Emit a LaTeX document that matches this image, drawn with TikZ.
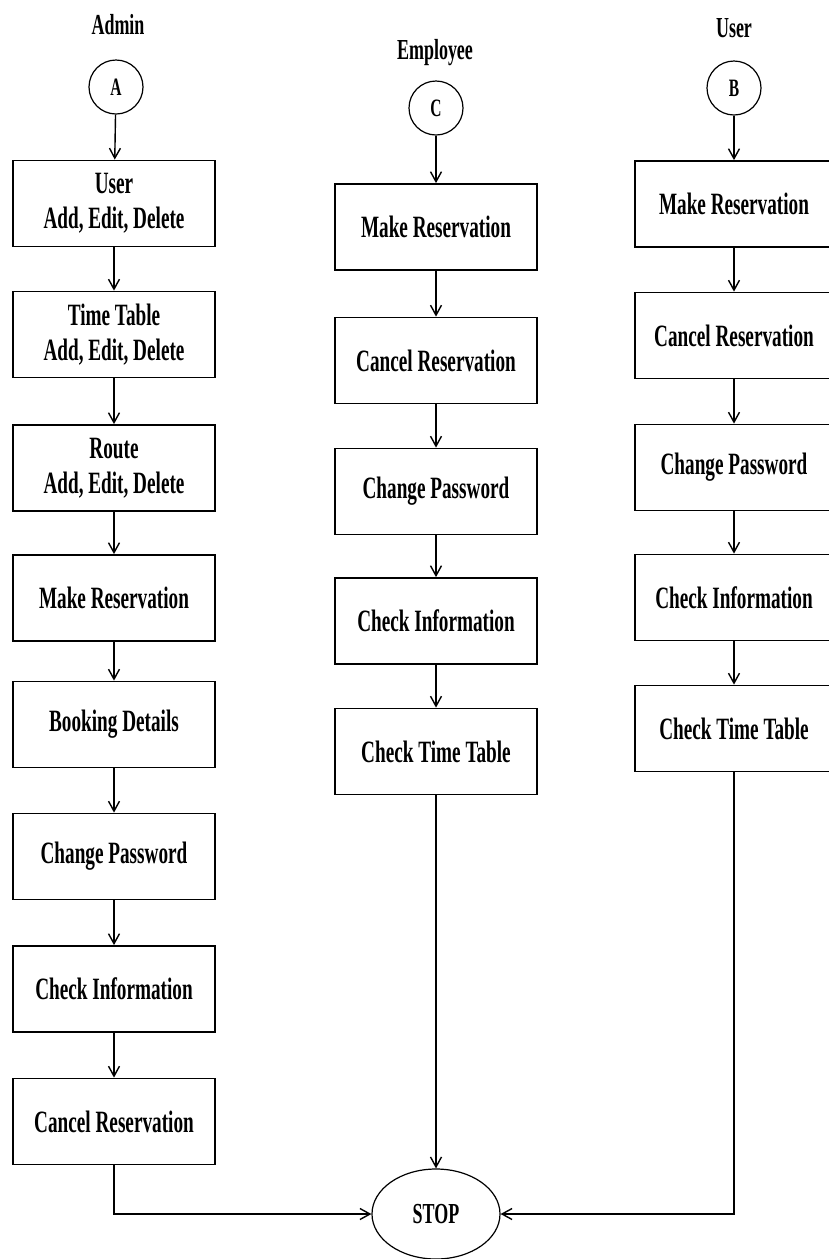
\documentclass[tikz,border=0pt]{standalone}
\usepackage{fontspec}
\setmainfont{Liberation Serif}[FakeStretch=0.62]
\usetikzlibrary{arrows.meta,shapes.geometric}
\tikzset{
  box/.style={draw, line width=1.8pt, minimum width=202pt, minimum height=86pt, inner sep=0pt,
    align=center, font=\fontsize{31}{35}\selectfont\bfseries},
  rbox/.style={box, minimum width=198pt},
  conn/.style={draw, line width=1.2pt, circle, minimum size=54pt, inner sep=0pt,
    font=\fontsize{25}{26}\selectfont\bfseries},
  lbl/.style={font=\fontsize{29}{30}\selectfont\bfseries, inner sep=0pt},
  stopnode/.style={draw, line width=1.2pt, ellipse, minimum width=128pt, minimum height=90pt, inner sep=0pt,
    font=\fontsize{29}{30}\selectfont\bfseries},
  arr/.style={line width=1.4pt, -{Straight Barb[length=10pt,width=11pt,line width=1.4pt]}},
}
\begin{document}
\begin{tikzpicture}[x=1pt,y=-1pt]
\useasboundingbox[fill=white] (0,0) rectangle (828,1259);
% labels
\node[lbl] (adm) at (118,25) {Admin};
\node[lbl] (emp) at (435,53) {Employee};
\node[lbl] (usr) at (734,28) {User};
% connectors circles
\node[conn] (A) at (116,87) {A};
\node[conn] (C) at (436,108) {C};
\node[conn] (B) at (734,88) {B};
% left column
\node[box] (L1) at (114,203.5) {User\\Add, Edit, Delete};
\node[box] (L2) at (114,334.5) {Time Table\\Add, Edit, Delete};
\node[box] (L3) at (114,468) {Route\\Add, Edit, Delete};
\node[box] (L4) at (114,598) {Make Reservation};
\node[box] (L5) at (114,724.5) {Booking Details};
\node[box] (L6) at (114,856.5) {Change Password};
\node[box] (L7) at (114,989) {Check Information};
\node[box] (L8) at (114,1121.5) {Cancel Reservation};
% middle column
\node[box] (M1) at (436,227) {Make Reservation};
\node[box] (M2) at (436,360.5) {Cancel Reservation};
\node[box] (M3) at (436,491.5) {Change Password};
\node[box] (M4) at (436,621) {Check Information};
\node[box] (M5) at (436,751.5) {Check Time Table};
% right column
\node[rbox] (R1) at (734,204) {Make Reservation};
\node[rbox] (R2) at (734,335.5) {Cancel Reservation};
\node[rbox] (R3) at (734,467.5) {Change Password};
\node[rbox] (R4) at (734,597.5) {Check Information};
\node[rbox] (R5) at (734,728.5) {Check Time Table};
% stop
\node[stopnode] (stop) at (436,1214) {STOP};
% arrows
\draw[arr] (A) -- (L1);
\draw[arr] (L1) -- (L2);
\draw[arr] (L2) -- (L3);
\draw[arr] (L3) -- (L4);
\draw[arr] (L4) -- (L5);
\draw[arr] (L5) -- (L6);
\draw[arr] (L6) -- (L7);
\draw[arr] (L7) -- (L8);
\draw[arr] (C) -- (M1);
\draw[arr] (M1) -- (M2);
\draw[arr] (M2) -- (M3);
\draw[arr] (M3) -- (M4);
\draw[arr] (M4) -- (M5);
\draw[arr] (B) -- (R1);
\draw[arr] (R1) -- (R2);
\draw[arr] (R2) -- (R3);
\draw[arr] (R3) -- (R4);
\draw[arr] (R4) -- (R5);
\draw[arr] (L8.south) |- (stop.west);
\draw[arr] (M5.south) -- (stop.north);
\draw[arr] (R5.south) |- (stop.east);
\end{tikzpicture}
\end{document}
